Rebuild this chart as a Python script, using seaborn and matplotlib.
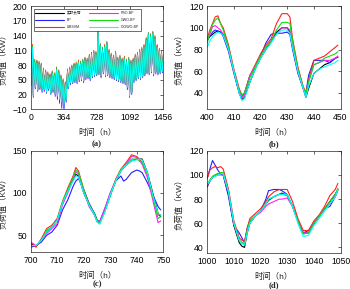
import numpy as np
import pandas as pd
import matplotlib
matplotlib.use("Agg")
import matplotlib.pyplot as plt
import seaborn as sns

series_names = ['实际负荷', 'BP', 'LIBSVM', 'PSO-BP', 'GWO-BP', 'CIGWO-BP']
series_colors = ['#000000', '#2020ff', '#ff2020', '#ff20ff', '#10dd10', '#00ffff']

# panel (a): daily peaks / troughs over the whole test range
days_a = np.arange(61)
trough_hour_a = days_a * 24 + 5
peak_hour_a = days_a * 24 + 20

actual_peak = [118, 88, 86, 84, 80, 70, 66, 62, 58, 64, 60, 72, 66, 56, 48,
               42, 68, 72, 76, 80, 82, 86, 84, 88, 92, 90, 98, 102, 106, 104,
               148, 120, 112, 118, 124, 108, 100, 96, 104, 92, 96, 90, 94, 88, 92,
               86, 90, 98, 102, 108, 112, 118, 132, 144, 140, 146, 136, 118, 110, 106, 104]
bp_peak = [112, 84, 88, 80, 78, 66, 68, 58, 60, 62, 58, 68, 64, 54, 46,
           40, 64, 70, 74, 78, 80, 82, 86, 84, 90, 88, 94, 100, 102, 100,
           140, 116, 110, 114, 118, 104, 98, 94, 100, 90, 92, 88, 92, 86, 88,
           84, 88, 94, 98, 104, 108, 114, 128, 138, 136, 140, 130, 114, 106, 102, 100]
libsvm_peak = [122, 92, 90, 88, 84, 74, 70, 66, 62, 68, 64, 76, 70, 60, 52,
               46, 72, 76, 80, 84, 86, 90, 88, 92, 96, 94, 102, 106, 110, 108,
               150, 124, 116, 122, 128, 112, 104, 100, 108, 96, 100, 94, 98, 92, 96,
               90, 94, 102, 106, 112, 116, 122, 136, 146, 144, 148, 140, 122, 114, 110, 108]
pso_peak = [116, 86, 88, 82, 82, 68, 66, 60, 58, 66, 60, 70, 68, 56, 48,
            44, 68, 74, 76, 82, 82, 86, 86, 88, 94, 90, 100, 102, 108, 104,
            150, 120, 114, 118, 126, 108, 102, 96, 104, 94, 96, 92, 94, 90, 92,
            88, 90, 100, 102, 110, 112, 120, 132, 146, 140, 148, 136, 120, 110, 108, 104]
gwo_peak = [120, 90, 88, 86, 82, 72, 68, 64, 60, 66, 62, 74, 68, 58, 50,
            44, 70, 74, 78, 82, 84, 88, 86, 90, 94, 92, 100, 104, 108, 106,
            148, 122, 114, 120, 126, 110, 102, 98, 106, 94, 98, 92, 96, 90, 94,
            88, 92, 100, 104, 110, 114, 120, 134, 146, 142, 146, 138, 120, 112, 108, 106]
cigwo_peak = [116, 86, 84, 82, 78, 68, 64, 60, 56, 62, 58, 70, 64, 54, 46,
              40, 66, 70, 74, 78, 80, 84, 82, 86, 90, 88, 96, 100, 104, 102,
              146, 118, 110, 116, 122, 106, 98, 94, 102, 90, 94, 88, 92, 86, 90,
              84, 88, 96, 100, 106, 110, 116, 130, 142, 138, 144, 134, 116, 108, 104, 102]

actual_trough = [42, 18, 36, 30, 34, 28, 30, 26, 32, 24, 28, 22, 18, 12, 6,
                 0, 10, 36, 44, 46, 48, 46, 50, 52, 48, 54, 56, 52, 58, 60,
                 62, 64, 58, 66, 60, 62, 58, 56, 54, 52, 50, 48, 46, 44, 36,
                 18, 24, 48, 52, 56, 54, 58, 62, 66, 64, 68, 62, 66, 64, 66, 68]
bp_trough = [38, 14, 32, 26, 30, 24, 26, 22, 28, 20, 24, 16, 10, 2, -8,
             -14, 4, 32, 40, 42, 44, 42, 46, 48, 44, 50, 52, 48, 54, 56,
             58, 60, 54, 62, 56, 58, 54, 52, 50, 48, 46, 44, 42, 40, 30,
             14, 20, 44, 48, 52, 50, 54, 58, 62, 60, 64, 58, 62, 60, 62, 64]
libsvm_trough = [44, 20, 38, 32, 36, 30, 32, 28, 34, 26, 30, 24, 20, 14, 8,
                 2, 12, 38, 46, 48, 50, 48, 52, 54, 50, 56, 58, 54, 60, 62,
                 64, 66, 60, 68, 62, 64, 60, 58, 56, 54, 52, 50, 48, 46, 38,
                 20, 26, 50, 54, 58, 56, 60, 64, 68, 66, 70, 64, 68, 66, 68, 70]
pso_trough = [40, 16, 34, 28, 32, 26, 28, 24, 30, 22, 26, 20, 16, 10, 4,
              -2, 8, 34, 42, 44, 46, 44, 48, 50, 46, 52, 54, 50, 56, 58,
              60, 62, 56, 64, 58, 60, 56, 54, 52, 50, 48, 46, 44, 42, 34,
              16, 22, 46, 50, 54, 52, 56, 60, 64, 62, 66, 60, 64, 62, 64, 66]
gwo_trough = [43, 19, 35, 31, 33, 29, 31, 25, 33, 23, 29, 21, 19, 11, 7,
              1, 11, 35, 45, 45, 49, 47, 49, 53, 47, 55, 55, 53, 57, 61,
              61, 65, 57, 67, 59, 63, 57, 57, 53, 53, 49, 49, 45, 45, 35,
              19, 23, 49, 51, 57, 53, 59, 61, 67, 63, 69, 61, 67, 63, 67, 67]
cigwo_trough = [41, 17, 36, 29, 34, 27, 30, 25, 32, 23, 28, 21, 17, 11, 5,
                -1, 9, 35, 44, 45, 48, 45, 50, 51, 48, 53, 56, 51, 58, 59,
                62, 63, 58, 65, 60, 61, 58, 55, 54, 51, 50, 47, 46, 43, 35,
                17, 23, 47, 52, 55, 54, 57, 62, 65, 64, 67, 62, 65, 64, 65, 67]

peaks_a = [actual_peak, bp_peak, libsvm_peak, pso_peak, gwo_peak, cigwo_peak]
troughs_a = [actual_trough, bp_trough, libsvm_trough, pso_trough, gwo_trough, cigwo_trough]

# panel (b): 400-450 h
hours_b = [400, 401, 402, 403, 404, 405, 406, 408, 410, 412, 413, 414, 416, 418, 420, 422,
           424, 426, 428, 430, 431, 432, 434, 436, 437, 438, 440, 442, 444, 446, 448, 449]
load_b = [
    [90, 92, 94, 96, 97, 96, 94, 80, 60, 40, 34, 36, 50, 62, 72, 80, 88, 96, 100, 100, 96, 82, 60, 44, 36, 44, 58, 62, 66, 68, 72, 73],
    [88, 92, 96, 98, 97, 96, 92, 78, 58, 40, 36, 40, 56, 64, 74, 86, 94, 95, 95, 96, 94, 80, 58, 44, 40, 56, 70, 70, 70, 68, 72, 73],
    [90, 98, 104, 110, 111, 104, 100, 84, 62, 44, 38, 40, 56, 66, 76, 84, 90, 104, 113, 113, 110, 90, 64, 46, 40, 52, 70, 72, 74, 78, 82, 84],
    [88, 94, 101, 102, 100, 98, 94, 80, 60, 42, 36, 38, 56, 64, 72, 82, 88, 94, 100, 100, 98, 84, 60, 44, 38, 50, 66, 68, 70, 70, 72, 74],
    [86, 96, 103, 107, 109, 104, 98, 82, 60, 42, 38, 40, 54, 64, 74, 82, 88, 98, 105, 105, 104, 88, 62, 45, 39, 50, 66, 68, 72, 74, 76, 78],
    [82, 88, 92, 94, 96, 95, 93, 80, 60, 40, 33, 35, 50, 62, 72, 80, 86, 94, 98, 98, 95, 82, 60, 44, 36, 46, 58, 62, 64, 66, 68, 70],
]

# panel (c): 700-750 h
hours_c = [700, 702, 704, 706, 708, 710, 712, 714, 716, 717, 718, 720, 722, 724, 725,
           726, 728, 730, 732, 734, 735, 736, 738, 740, 741, 742, 744, 746, 748, 749]
load_c = [
    [40, 37, 44, 54, 60, 68, 88, 102, 116, 122, 120, 100, 86, 76, 68, 65, 80, 98, 114, 126, 130, 133, 138, 140, 140, 140, 124, 100, 76, 72],
    [36, 38, 42, 50, 54, 62, 80, 92, 108, 114, 117, 104, 88, 76, 68, 66, 82, 100, 114, 120, 114, 116, 124, 127, 126, 124, 112, 98, 84, 80],
    [42, 36, 46, 58, 62, 70, 90, 106, 120, 130, 126, 104, 86, 74, 66, 64, 80, 98, 116, 128, 132, 136, 145, 143, 140, 136, 122, 96, 74, 74],
    [42, 38, 44, 52, 58, 64, 86, 100, 116, 125, 122, 102, 84, 74, 68, 66, 82, 100, 114, 126, 130, 134, 143, 142, 138, 134, 118, 92, 65, 67],
    [38, 38, 44, 56, 60, 68, 90, 104, 118, 127, 124, 104, 86, 76, 68, 64, 78, 96, 114, 128, 131, 134, 140, 140, 138, 136, 122, 96, 70, 72],
    [38, 38, 44, 54, 60, 68, 88, 102, 114, 120, 119, 100, 86, 74, 66, 63, 78, 98, 114, 126, 130, 133, 138, 139, 140, 139, 124, 98, 76, 74],
]

# panel (d): 1000-1050 h
hours_d = [1000, 1001, 1002, 1003, 1004, 1005, 1006, 1008, 1010, 1012, 1013, 1014, 1015, 1016, 1018, 1020,
           1022, 1023, 1025, 1027, 1028, 1030, 1032, 1034, 1036, 1038, 1040, 1042, 1044, 1046, 1048, 1049]
load_d = [
    [90, 95, 98, 100, 101, 101, 100, 84, 58, 44, 41, 40, 52, 60, 66, 70, 76, 79, 82, 84, 85, 83, 74, 62, 52, 52, 60, 66, 72, 78, 84, 88],
    [97, 105, 112, 108, 104, 101, 100, 82, 58, 52, 48, 44, 56, 62, 66, 70, 80, 87, 88, 88, 87, 84, 74, 62, 52, 54, 60, 66, 72, 74, 82, 88],
    [97, 104, 106, 107, 106, 107, 105, 88, 62, 48, 46, 45, 56, 64, 68, 72, 78, 82, 86, 88, 88, 88, 78, 64, 54, 54, 62, 67, 74, 83, 88, 93],
    [91, 95, 98, 99, 100, 100, 100, 86, 60, 46, 44, 43, 54, 60, 66, 69, 74, 76, 78, 80, 80, 81, 74, 62, 52, 52, 60, 66, 72, 76, 82, 87],
    [92, 96, 99, 100, 101, 102, 102, 86, 60, 46, 44, 43, 54, 62, 66, 70, 76, 80, 82, 84, 84, 83, 74, 62, 51, 52, 60, 66, 72, 78, 84, 89],
    [92, 95, 98, 99, 100, 101, 101, 86, 60, 46, 43, 42, 52, 60, 66, 70, 76, 80, 82, 84, 84, 84, 74, 60, 49, 50, 58, 64, 70, 76, 82, 88],
]

sns.set_style('white')
plt.rcParams['font.family'] = ['Liberation Sans', 'Noto Sans CJK SC']
plt.rcParams['axes.linewidth'] = 0.5

fig = plt.figure(figsize=(3.5, 2.89), dpi=100)
ax_a = fig.add_axes([0.0877, 0.622, 0.379, 0.357])
ax_b = fig.add_axes([0.592, 0.622, 0.381, 0.357])
ax_c = fig.add_axes([0.0877, 0.127, 0.379, 0.352])
ax_d = fig.add_axes([0.592, 0.123, 0.381, 0.355])

# (a) build each series by interleaving trough and peak points
for name, color, pk, tr in zip(series_names, series_colors, peaks_a, troughs_a):
    df = pd.DataFrame({'hour': np.concatenate([trough_hour_a, peak_hour_a]),
                       'load': np.concatenate([tr, pk])}).sort_values('hour')
    sns.lineplot(data=df, x='hour', y='load', color=color, lw=0.6, label=name, ax=ax_a, sort=False)

for ax, hours, loads in [(ax_b, hours_b, load_b), (ax_c, hours_c, load_c), (ax_d, hours_d, load_d)]:
    for name, color, vals in zip(series_names, series_colors, loads):
        sns.lineplot(x=hours, y=vals, color=color, lw=0.8, ax=ax, legend=False)

settings = [
    (ax_a, (0, 1456), [0, 364, 728, 1092, 1456], (-10, 200), [-10, 20, 50, 80, 110, 140, 170, 200], '(a)', -0.185, -0.335),
    (ax_b, (400, 450), [400, 410, 420, 430, 440, 450], (25, 120), [40, 60, 80, 100, 120], '(b)', -0.185, -0.335),
    (ax_c, (700, 750), [700, 710, 720, 730, 740, 750], (30, 150), [50, 100, 150], '(c)', -0.195, -0.31),
    (ax_d, (1000, 1050), [1000, 1010, 1020, 1030, 1040, 1050], (35, 120), [40, 60, 80, 100, 120], '(d)', -0.19, -0.31),
]
for ax, xl, xt, yl, yt, cap, lab_y, cap_y in settings:
    ax.set_xlim(*xl)
    ax.set_xticks(xt)
    ax.set_ylim(*yl)
    ax.set_yticks(yt)
    ax.tick_params(direction='in', length=2, width=0.5, top=True, right=True,
                   labelsize=6.2, pad=2.5, colors='#262626', labelcolor='black')
    for sp in ax.spines.values():
        sp.set_color('#262626')
        sp.set_linewidth(0.5)
    ax.set_xlabel('时间（h）', fontsize=6)
    ax.set_ylabel('负荷值（KW）', fontsize=6)
    ax.xaxis.set_label_coords(0.5, lab_y)
    ax.yaxis.set_label_coords(-0.175, 0.5)
    ax.text(0.5, cap_y, cap, transform=ax.transAxes, ha='center', va='center',
            fontsize=6.2, fontweight='bold', family='Liberation Serif')

leg = ax_a.legend(loc='upper left', bbox_to_anchor=(0.008, 0.987), ncol=2, fontsize=2.6,
                  handlelength=8, columnspacing=2, frameon=True, fancybox=False,
                  edgecolor='black', framealpha=1, borderpad=0.5, labelspacing=0.8)
leg.get_frame().set_linewidth(0.4)
for line in leg.get_lines():
    line.set_linewidth(0.8)

fig.savefig('out.png', dpi=100)
